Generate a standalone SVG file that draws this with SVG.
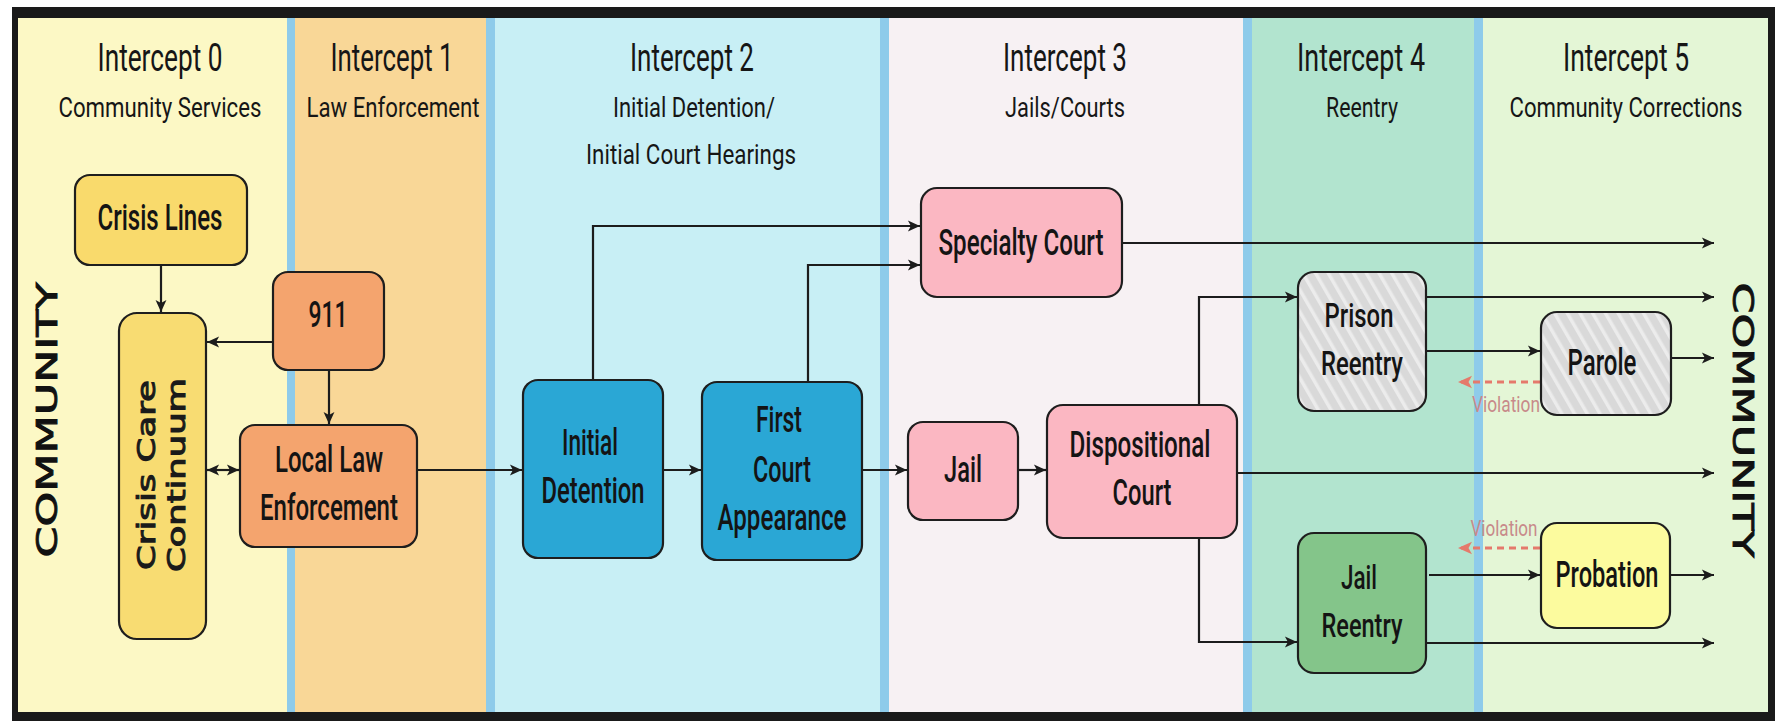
<svg xmlns="http://www.w3.org/2000/svg" width="1775" height="721" viewBox="0 0 1775 721">
<defs>
<style>
.hd{font-family:Roboto,"Liberation Sans",sans-serif;fill:#161616;text-anchor:middle}
.h1{font-size:38px}
.h2{font-size:28px}
.nt{font-family:Roboto,"Liberation Sans",sans-serif;font-weight:500;font-size:37px;fill:#141414;text-anchor:middle}
.sm{font-size:34px}
.box{stroke:#1e1e1e;stroke-width:2.2}
.ln{fill:none;stroke:#1c1c1c;stroke-width:2.2}
.vio{fill:none;stroke:#e5796b;stroke-width:2.8;stroke-dasharray:7 5}
.vt{font-family:Roboto,"Liberation Sans",sans-serif;font-size:22px;fill:#c88a8a;text-anchor:middle}
.com{font-family:"DejaVu Sans",sans-serif;font-size:29px;fill:#111;stroke:#111;stroke-width:0.9;text-anchor:middle}
.cc{font-family:"DejaVu Sans",sans-serif;font-size:25px;fill:#1a1a1a;stroke:#1a1a1a;stroke-width:1;text-anchor:middle}
.strip{fill:#8ecbea}
</style>
<marker id="ah" viewBox="0 0 10 10" refX="10" refY="5" markerWidth="6" markerHeight="5.5" orient="auto-start-reverse" markerUnits="strokeWidth">
<path d="M0,0.5 L10,5 L0,9.5 L2.5,5 z" fill="#1c1c1c"/>
</marker>
<marker id="ahr" viewBox="0 0 10 10" refX="10" refY="5" markerWidth="5" markerHeight="5" orient="auto" markerUnits="strokeWidth">
<path d="M0,0.5 L10,5 L0,9.5 L2.5,5 z" fill="#e5796b"/>
</marker>
<pattern id="hatch" width="11" height="11" patternUnits="userSpaceOnUse" patternTransform="rotate(-30)">
<rect width="11" height="11" fill="#d9d9d9"/>
<rect width="3.5" height="11" fill="#ececec"/>
</pattern>
</defs>

<!-- frame and columns -->
<rect x="12" y="7" width="1763" height="714" fill="#1a1a1a"/>
<rect x="18" y="18" width="270" height="694" fill="#fcf8c5"/>
<rect x="288" y="18" width="198" height="694" fill="#f9d797"/>
<rect x="486" y="18" width="395" height="694" fill="#c8eff5"/>
<rect x="881" y="18" width="362" height="694" fill="#f7f1f3"/>
<rect x="1243" y="18" width="231" height="694" fill="#b2e4cf"/>
<rect x="1474" y="18" width="294" height="694" fill="#e4f6d6"/>
<rect class="strip" x="287" y="18" width="8" height="694"/>
<rect class="strip" x="486" y="18" width="9" height="694"/>
<rect class="strip" x="880" y="18" width="9" height="694"/>
<rect class="strip" x="1243" y="18" width="9" height="694"/>
<rect class="strip" x="1474" y="18" width="9" height="694"/>

<!-- headers -->
<g id="headers">
<text class="hd h1" x="160" y="71" textLength="125" lengthAdjust="spacingAndGlyphs">Intercept 0</text>
<text class="hd h2" x="160" y="117" textLength="203" lengthAdjust="spacingAndGlyphs">Community Services</text>
<text class="hd h1" x="392" y="71" textLength="123" lengthAdjust="spacingAndGlyphs">Intercept 1</text>
<text class="hd h2" x="393" y="117" textLength="173" lengthAdjust="spacingAndGlyphs">Law Enforcement</text>
<text class="hd h1" x="692" y="71" textLength="124" lengthAdjust="spacingAndGlyphs">Intercept 2</text>
<text class="hd h2" x="694" y="117" textLength="162" lengthAdjust="spacingAndGlyphs">Initial Detention/</text>
<text class="hd h2" x="691" y="164" textLength="210" lengthAdjust="spacingAndGlyphs">Initial Court Hearings</text>
<text class="hd h1" x="1065" y="71" textLength="124" lengthAdjust="spacingAndGlyphs">Intercept 3</text>
<text class="hd h2" x="1065" y="117" textLength="120" lengthAdjust="spacingAndGlyphs">Jails/Courts</text>
<text class="hd h1" x="1361" y="71" textLength="128" lengthAdjust="spacingAndGlyphs">Intercept 4</text>
<text class="hd h2" x="1362" y="117" textLength="72" lengthAdjust="spacingAndGlyphs">Reentry</text>
<text class="hd h1" x="1626" y="71" textLength="126" lengthAdjust="spacingAndGlyphs">Intercept 5</text>
<text class="hd h2" x="1626" y="117" font-size="25" textLength="233" lengthAdjust="spacingAndGlyphs">Community Corrections</text>
</g>

<g id="community-left">
<text class="com" transform="translate(57,420) rotate(-90)" textLength="275" lengthAdjust="spacingAndGlyphs">COMMUNITY</text>
</g>
<g id="community-right">
<text class="com" transform="translate(1733,420) rotate(90)" textLength="275" lengthAdjust="spacingAndGlyphs">COMMUNITY</text>
</g>

<!-- connectors -->
<g id="connectors">
<path class="ln" d="M161,265 V312" marker-end="url(#ah)"/>
<path class="ln" d="M273,342 H207" marker-end="url(#ah)"/>
<path class="ln" d="M329,370 V424" marker-end="url(#ah)"/>
<path class="ln" d="M207,470 H239" marker-start="url(#ah)" marker-end="url(#ah)"/>
<path class="ln" d="M417,470 H522" marker-end="url(#ah)"/>
<path class="ln" d="M663,470 H701" marker-end="url(#ah)"/>
<path class="ln" d="M862,470 H907" marker-end="url(#ah)"/>
<path class="ln" d="M1018,470 H1046" marker-end="url(#ah)"/>
<path class="ln" d="M593,380 V226 H920" marker-end="url(#ah)"/>
<path class="ln" d="M808,382 V265 H920" marker-end="url(#ah)"/>
<path class="ln" d="M1122,243 H1714" marker-end="url(#ah)"/>
<path class="ln" d="M1199,405 V297 H1297" marker-end="url(#ah)"/>
<path class="ln" d="M1237,473 H1714" marker-end="url(#ah)"/>
<path class="ln" d="M1199,538 V642 H1297" marker-end="url(#ah)"/>
<path class="ln" d="M1426,297 H1714" marker-end="url(#ah)"/>
<path class="ln" d="M1426,351 H1540" marker-end="url(#ah)"/>
<path class="ln" d="M1671,358 H1714" marker-end="url(#ah)"/>
<path class="ln" d="M1429,575 H1540" marker-end="url(#ah)"/>
<path class="ln" d="M1670,575 H1714" marker-end="url(#ah)"/>
<path class="ln" d="M1426,643 H1714" marker-end="url(#ah)"/>
<path class="vio" d="M1540,382 H1458" marker-end="url(#ahr)"/>
<path class="vio" d="M1540,548 H1458" marker-end="url(#ahr)"/>
<text class="vt" x="1506" y="412" textLength="68" lengthAdjust="spacingAndGlyphs">Violation</text>
<text class="vt" x="1504" y="536" textLength="67" lengthAdjust="spacingAndGlyphs">Violation</text>
</g>

<!-- nodes -->
<g id="crisis-lines">
<rect class="box" x="75" y="175" width="172" height="90" rx="15" fill="#f9da6c"/>
<text class="nt" x="160" y="230" textLength="125" lengthAdjust="spacingAndGlyphs">Crisis Lines</text>
</g>
<g id="crisis-care-continuum">
<rect class="box" x="119" y="313" width="87" height="326" rx="18" fill="#f8dc72"/>
<text class="cc" transform="translate(155,475) rotate(-90)" textLength="190" lengthAdjust="spacingAndGlyphs">Crisis Care</text>
<text class="cc" transform="translate(185,475) rotate(-90)" textLength="194" lengthAdjust="spacingAndGlyphs">Continuum</text>
</g>
<g id="n911">
<rect class="box" x="273" y="272" width="111" height="98" rx="15" fill="#f4a46e"/>
<text class="nt" x="328" y="327" textLength="39" lengthAdjust="spacingAndGlyphs">911</text>
</g>
<g id="local-law-enforcement">
<rect class="box" x="240" y="425" width="177" height="122" rx="15" fill="#f4a46e"/>
<text class="nt" x="329" y="472" textLength="108" lengthAdjust="spacingAndGlyphs">Local Law</text>
<text class="nt" x="329" y="520" textLength="138" lengthAdjust="spacingAndGlyphs">Enforcement</text>
</g>
<g id="initial-detention">
<rect class="box" x="523" y="380" width="140" height="178" rx="15" fill="#2aa7d5"/>
<text class="nt" x="590" y="455" textLength="56" lengthAdjust="spacingAndGlyphs">Initial</text>
<text class="nt" x="593" y="503" textLength="103" lengthAdjust="spacingAndGlyphs">Detention</text>
</g>
<g id="first-court-appearance">
<rect class="box" x="702" y="382" width="160" height="178" rx="15" fill="#2aa7d5"/>
<text class="nt" x="779" y="432" textLength="46" lengthAdjust="spacingAndGlyphs">First</text>
<text class="nt" x="782" y="482" textLength="58" lengthAdjust="spacingAndGlyphs">Court</text>
<text class="nt" x="782" y="530" textLength="129" lengthAdjust="spacingAndGlyphs">Appearance</text>
</g>
<g id="specialty-court">
<rect class="box" x="921" y="188" width="201" height="109" rx="16" fill="#fbb7c2"/>
<text class="nt" x="1021" y="255" textLength="165" lengthAdjust="spacingAndGlyphs">Specialty Court</text>
</g>
<g id="jail">
<rect class="box" x="908" y="422" width="110" height="98" rx="15" fill="#fbb7c2"/>
<text class="nt" x="963" y="482" textLength="38" lengthAdjust="spacingAndGlyphs">Jail</text>
</g>
<g id="dispositional-court">
<rect class="box" x="1047" y="405" width="190" height="133" rx="16" fill="#fbb7c2"/>
<text class="nt" x="1140" y="457" textLength="141" lengthAdjust="spacingAndGlyphs">Dispositional</text>
<text class="nt" x="1142" y="505" textLength="59" lengthAdjust="spacingAndGlyphs">Court</text>
</g>
<g id="prison-reentry">
<rect class="box" x="1298" y="272" width="128" height="139" rx="16" fill="url(#hatch)"/>
<text class="nt sm" x="1359" y="327" textLength="69" lengthAdjust="spacingAndGlyphs">Prison</text>
<text class="nt sm" x="1362" y="375" textLength="82" lengthAdjust="spacingAndGlyphs">Reentry</text>
</g>
<g id="parole">
<rect class="box" x="1541" y="312" width="130" height="103" rx="16" fill="url(#hatch)"/>
<text class="nt" x="1602" y="375" textLength="69" lengthAdjust="spacingAndGlyphs">Parole</text>
</g>
<g id="jail-reentry">
<rect class="box" x="1298" y="533" width="128" height="140" rx="16" fill="#84c58a"/>
<text class="nt sm" x="1359" y="589" textLength="36" lengthAdjust="spacingAndGlyphs">Jail</text>
<text class="nt sm" x="1362" y="637" textLength="81" lengthAdjust="spacingAndGlyphs">Reentry</text>
</g>
<g id="probation">
<rect class="box" x="1541" y="523" width="129" height="105" rx="16" fill="#fcfb9e"/>
<text class="nt" x="1607" y="587" textLength="103" lengthAdjust="spacingAndGlyphs">Probation</text>
</g>
</svg>
